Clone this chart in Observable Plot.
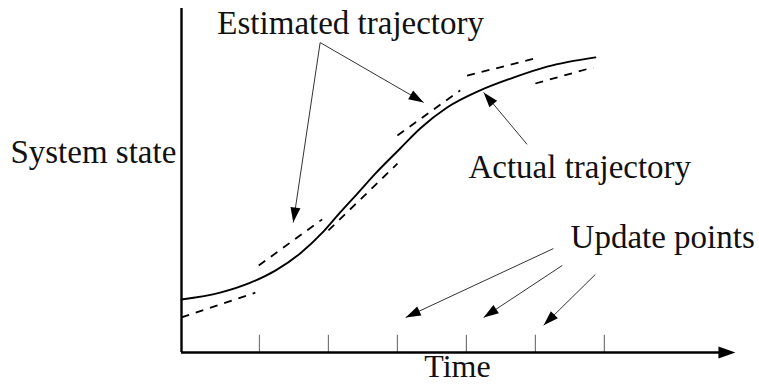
<!DOCTYPE html>
<html>
<head>
<meta charset="utf-8">
<script src="https://cdn.jsdelivr.net/npm/d3@7"></script>
<script src="https://cdn.jsdelivr.net/npm/@observablehq/plot@0.6"></script>
<style>
  html, body { margin: 0; padding: 0; background: #fff; }
  #chart svg { display: block; }
</style>
</head>
<body>
<div id="chart"></div>
<script>
// ---- Data (time units: update ticks at 1..6; state units 0..10) ----
const updateTicks = [1, 2, 3, 4, 5, 6];

// Actual trajectory (solid sigmoid)
const actualT = [-0.13, 0.43, 0.87, 1.23, 1.59, 1.93, 2.17, 2.42, 2.68, 3.04, 3.33, 3.72, 4.20, 4.68, 5.17, 5.87];
const actualS = [1.54, 1.74, 2.03, 2.38, 2.88, 3.52, 4.07, 4.62, 5.20, 5.93, 6.51, 7.12, 7.62, 7.99, 8.31, 8.58];

// Estimated trajectory (dashed linear pieces between updates)
const estStartT = [-0.13, 0.99, 2.0, 3.0, 4.01, 5.0];
const estStartS = [1.02, 2.53, 3.55, 6.31, 8.05, 7.82];
const estEndT   = [0.94, 1.91, 3.0, 3.91, 5.0, 5.84];
const estEndS   = [1.74, 3.87, 5.49, 7.62, 8.55, 8.29];

// Labels
const labelText = ["Estimated trajectory", "Actual trajectory", "Update points", "System state"];
const labelT = [0.39, 4.03, 5.51, -2.61];
const labelS = [9.27, 5.06, 3.05, 5.52];
const axisTitle = "Time";
const axisTitleT = 3.87, axisTitleS = -0.72;

// Annotation arrows (tail -> tip)
const arrowTailT = [1.88, 1.88, 4.88, 5.26, 5.39, 5.87];
const arrowTailS = [9.01, 9.01, 6.05, 3.02, 2.53, 2.27];
const arrowTipT  = [1.49, 3.38, 4.25, 3.12, 4.25, 5.12];
const arrowTipS  = [3.78, 7.27, 7.56, 1.02, 1.02, 0.79];

// ---- Scales ----
const xDomain = [-0.13, 7.93], xRange = [181, 737];
const yDomain = [0, 10], yRange = [352, 8];
const kx = (xRange[1] - xRange[0]) / (xDomain[1] - xDomain[0]);
const ky = (yRange[1] - yRange[0]) / (yDomain[1] - yDomain[0]);
const angleOf = (t0, s0, t1, s1) => {
  const dx = (t1 - t0) * kx, dy = (s1 - s0) * ky;
  return Math.atan2(dx, -dy) * 180 / Math.PI;
};
const head = (L, W) => ({
  draw(ctx) { ctx.moveTo(0, 0); ctx.lineTo(-W / 2, L); ctx.lineTo(W / 2, L); ctx.closePath(); }
});

const actual = actualT.map((t, i) => ({t, s: actualS[i]}));
const est = estStartT.map((t, i) => ({t0: t, s0: estStartS[i], t1: estEndT[i], s1: estEndS[i]}));
const labels = labelText.map((text, i) => ({text, t: labelT[i], s: labelS[i]}));
const arrows = arrowTailT.map((t, i) => ({
  t0: t, s0: arrowTailS[i], t1: arrowTipT[i], s1: arrowTipS[i],
  angle: angleOf(t, arrowTailS[i], arrowTipT[i], arrowTipS[i])
}));
const xEnd = 7.9;
const axisArrow = [{t: xEnd, s: 0, angle: 90}];

const font = "'Liberation Serif', 'Times New Roman', serif";

const chart = Plot.plot({
  width: 759,
  height: 385,
  x: {domain: xDomain, range: xRange, axis: null},
  y: {domain: yDomain, range: yRange, axis: null},
  style: {background: "#fff", fontFamily: font},
  marks: [
    // ticks
    Plot.ruleX(updateTicks, {y1: 0, y2: 0.5, stroke: "#777", strokeWidth: 1.2}),
    // axes
    Plot.ruleX([xDomain[0]], {y1: 0, y2: 10, stroke: "#000", strokeWidth: 2.4}),
    Plot.ruleY([0], {x1: xDomain[0], x2: xEnd - 0.2, stroke: "#000", strokeWidth: 2.4}),
    Plot.dot(axisArrow, {x: "t", y: "s", rotate: "angle", symbol: head(17, 12), fill: "#000", stroke: "none"}),
    // estimated (dashed)
    Plot.link(est, {x1: "t0", y1: "s0", x2: "t1", y2: "s1", stroke: "#000", strokeWidth: 1.8, strokeDasharray: "8,7"}),
    // actual (solid)
    Plot.line(actual, {x: "t", y: "s", curve: "monotone-x", stroke: "#000", strokeWidth: 1.9}),
    // annotation arrows
    Plot.link(arrows, {x1: "t0", y1: "s0", x2: "t1", y2: "s1", stroke: "#333", strokeWidth: 1}),
    Plot.dot(arrows, {x: "t1", y: "s1", rotate: "angle", symbol: head(15, 10), fill: "#000", stroke: "none"}),
    // labels
    Plot.text(labels, {x: "t", y: "s", text: "text", textAnchor: "start", lineAnchor: "bottom",
      fontSize: 33, fontFamily: font, fill: "#111"}),
    Plot.text([axisTitle], {x: axisTitleT, y: axisTitleS, text: d => d, textAnchor: "middle", lineAnchor: "bottom",
      fontSize: 32, fontFamily: font, fill: "#111"})
  ]
});
document.getElementById("chart").appendChild(chart);
</script>
</body>
</html>
